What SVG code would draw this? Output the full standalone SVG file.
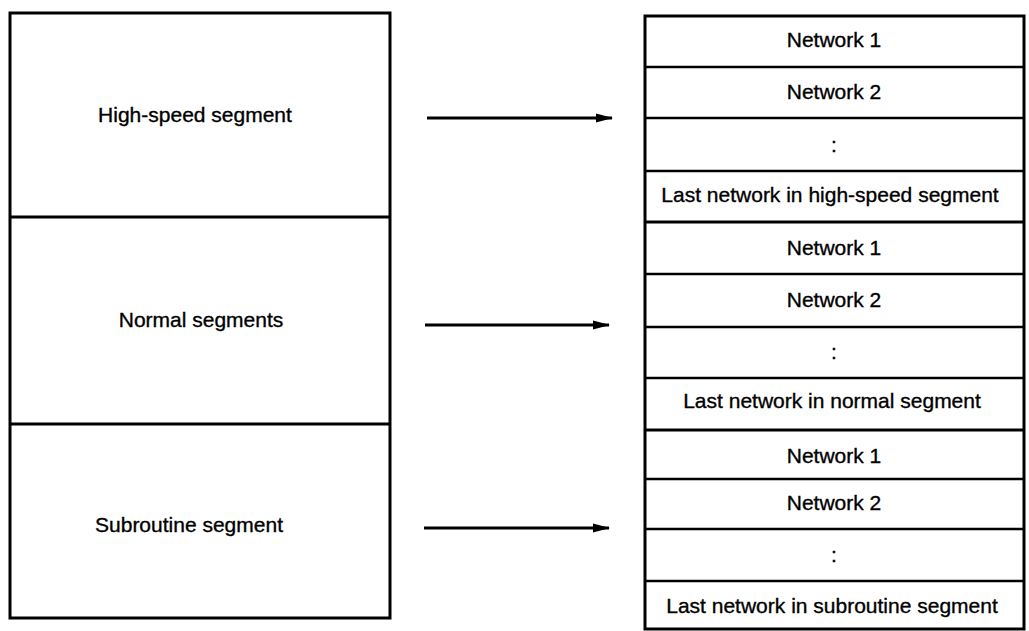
<svg xmlns="http://www.w3.org/2000/svg" width="1029" height="631" viewBox="0 0 1029 631">
  <style>
    .frame { fill: #fff; stroke: #000; stroke-width: 3; }
    .div { stroke: #000; stroke-width: 2.5; fill: none; }
    .div.heavy { stroke-width: 3; }
    .lbl { font-family: "Liberation Sans", Arial, sans-serif; font-size: 21px; fill: #000; stroke: #000; stroke-width: 0.35; text-anchor: middle; }
    .conn { stroke: #000; stroke-width: 3; fill: none; }
  </style>
  <defs>
    <marker id="arrow" markerWidth="17" markerHeight="10" refX="16" refY="5" orient="auto" markerUnits="userSpaceOnUse">
      <path d="M0,0.5 L17,5 L0,9.5 Z" fill="#000"/>
    </marker>
  </defs>
  <rect width="1029" height="631" fill="#fff"/>

  <!-- program segments -->
  <g id="segments">
    <rect class="frame" x="10" y="13" width="380" height="605"/>
    <line class="div heavy" x1="10" y1="217" x2="390" y2="217"/>
    <line class="div heavy" x1="10" y1="424" x2="390" y2="424"/>
  </g>
  <g id="seg-highspeed"><text class="lbl" x="195" y="122">High-speed segment</text></g>
  <g id="seg-normal"><text class="lbl" x="201" y="327">Normal segments</text></g>
  <g id="seg-subroutine"><text class="lbl" x="189" y="532">Subroutine segment</text></g>

  <!-- network list -->
  <g id="networks">
    <rect class="frame" x="645" y="16" width="379" height="613"/>
    <line class="div" x1="645" y1="67" x2="1024" y2="67"/>
    <line class="div" x1="645" y1="118" x2="1024" y2="118"/>
    <line class="div" x1="645" y1="171" x2="1024" y2="171"/>
    <line class="div heavy" x1="645" y1="222" x2="1024" y2="222"/>
    <line class="div" x1="645" y1="274" x2="1024" y2="274"/>
    <line class="div" x1="645" y1="327" x2="1024" y2="327"/>
    <line class="div" x1="645" y1="378" x2="1024" y2="378"/>
    <line class="div heavy" x1="645" y1="430" x2="1024" y2="430"/>
    <line class="div" x1="645" y1="479" x2="1024" y2="479"/>
    <line class="div" x1="645" y1="529" x2="1024" y2="529"/>
    <line class="div" x1="645" y1="581" x2="1024" y2="581"/>
  </g>
  <g id="net-hs">
    <text class="lbl" x="834" y="47">Network 1</text>
    <text class="lbl" x="834" y="99">Network 2</text>
    <text class="lbl" x="834" y="152">:</text>
    <text class="lbl" x="830" y="202">Last network in high-speed segment</text>
  </g>
  <g id="net-normal">
    <text class="lbl" x="834" y="255">Network 1</text>
    <text class="lbl" x="834" y="307">Network 2</text>
    <text class="lbl" x="834" y="359">:</text>
    <text class="lbl" x="832" y="408">Last network in normal segment</text>
  </g>
  <g id="net-subroutine">
    <text class="lbl" x="834" y="463">Network 1</text>
    <text class="lbl" x="834" y="510">Network 2</text>
    <text class="lbl" x="834" y="562">:</text>
    <text class="lbl" x="832" y="613">Last network in subroutine segment</text>
  </g>

  <!-- connectors -->
  <g id="connectors">
    <line class="conn" x1="427" y1="118" x2="612" y2="118" marker-end="url(#arrow)"/>
    <line class="conn" x1="425" y1="325" x2="609" y2="325" marker-end="url(#arrow)"/>
    <line class="conn" x1="424" y1="528" x2="609" y2="528" marker-end="url(#arrow)"/>
  </g>
</svg>
